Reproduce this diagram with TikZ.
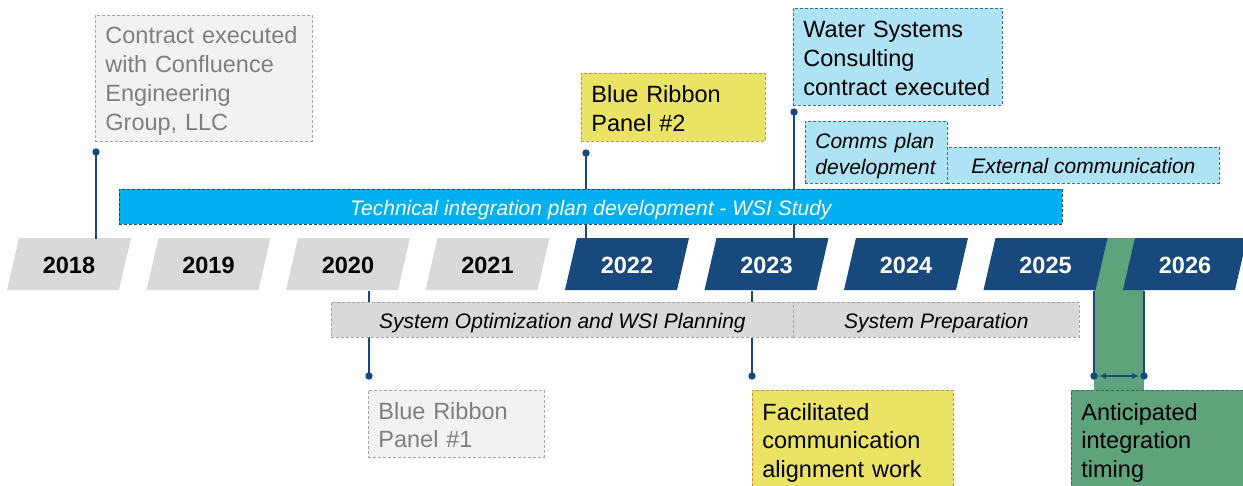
\documentclass[tikz,border=0pt]{standalone}
\usepackage{fontspec}
\setmainfont{Liberation Sans}
\usetikzlibrary{arrows.meta}
\definecolor{dblue}{HTML}{17497D}
\definecolor{yeargray}{HTML}{D9D9D9}
\definecolor{lgray}{HTML}{F2F2F2}
\definecolor{bordgray}{HTML}{A6A6A6}
\definecolor{txtgray}{HTML}{7F7F7F}
\definecolor{cyanbar}{HTML}{00B0F0}
\definecolor{lblue}{HTML}{AEE2F5}
\definecolor{lbluebord}{HTML}{3A6F96}
\definecolor{yel}{HTML}{EAE363}
\definecolor{yelbord}{HTML}{D08A4A}
\definecolor{grn}{HTML}{5EA37B}
\definecolor{grnbord}{HTML}{2F6B6E}
\begin{document}
\begin{tikzpicture}[x=1pt,y=-1pt,
  dsh/.style={draw, dash pattern=on 3pt off 2pt, line width=0.8pt},
  evbox/.style={dsh, anchor=north west, inner xsep=10pt, inner ysep=0pt, align=left,
    font=\fontsize{23.5}{28.7}\selectfont,
    execute at begin node={\rule{0pt}{22pt}},
    execute at end node={\rule[-3pt]{0pt}{3pt}}},
  barbox/.style={dsh, anchor=north west, inner sep=0pt, align=center,
    text height=20pt, text depth=3pt,
    font=\fontsize{21}{26}\selectfont\itshape},
  graybox/.style={fill=lgray, draw=bordgray, text=txtgray},
  yelbox/.style={fill=yel, draw=yelbord, text=black},
  bluebox/.style={fill=lblue, draw=lbluebord, text=black},
  grnbox/.style={fill=grn, draw=grnbord, text=black},
  yeartext/.style={minimum width=112pt, minimum height=52pt, inner sep=0pt,
    font=\fontsize{23.5}{28}\selectfont\bfseries},
  conn/.style={draw=dblue, line width=1.6pt},
  dotst/.style={fill=dblue}
]
\useasboundingbox (0,0) rectangle (1243,485);

% green band behind the year row
\node[fill=grn, minimum width=50pt, minimum height=152pt, anchor=north west, inner sep=0pt] (gband) at (1094,238) {};

% year parallelograms and labels
\foreach \i in {0,...,8}{
  \pgfmathsetmacro\c{69+139.5*\i}
  \pgfmathtruncatemacro\yr{2018+\i}
  \ifnum\i<4 \def\fc{yeargray}\def\tc{black}\else\def\fc{dblue}\def\tc{white}\fi
  \fill[\fc] (\c-62,290) -- (\c+50,290) -- (\c+62,238) -- (\c-50,238) -- cycle;
  \node[yeartext, text=\tc] (y\yr) at (\c,265) {\yr};
}

% connector end points
\coordinate (d2018) at (96,152);
\coordinate (d2022) at (586,153);
\coordinate (d2023t) at (794,112);
\coordinate (d2020) at (369,376);
\coordinate (d2023b) at (752,376);
\coordinate (g1) at (1094,376);
\coordinate (g2) at (1144,376);

% connectors
\draw[conn] (d2018) -- (d2018 |- y2018.north);
\draw[conn] (d2022) -- (d2022 |- y2022.north);
\draw[conn] (d2023t) -- (d2023t |- y2023.north);
\draw[conn] (d2020 |- y2020.south) -- (d2020);
\draw[conn] (d2023b |- y2023.south) -- (d2023b);
\draw[conn] (g1 |- y2025.south) -- (g1);
\draw[conn] (g2 |- y2026.south) -- (g2);
\draw[draw=dblue, line width=1.5pt, {Latex[length=7pt,width=6.5pt]}-{Latex[length=7pt,width=6.5pt]},
  shorten <=5pt, shorten >=5pt] (g1) -- (g2);

% bars
\node[barbox, fill=cyanbar, draw=dblue, text=white, minimum width=943pt, minimum height=35pt] (tech) at (119,189)
  {Technical integration plan development - WSI Study};
\node[barbox, fill=yeargray, draw=bordgray, text=black, minimum width=462pt, minimum height=35pt] (sysopt) at (331,302)
  {System Optimization and WSI Planning};
\node[barbox, fill=yeargray, draw=bordgray, text=black, minimum width=286pt, minimum height=35pt] (sysprep) at (793,302)
  {System Preparation};
\node[barbox, bluebox, text height=19pt, minimum width=272pt, minimum height=36pt] (extcomm) at (947,147)
  {External communication};
\node[evbox, bluebox, font=\fontsize{21}{26}\selectfont\itshape, text width=122pt, minimum height=62pt] (comms) at (805,121)
  {Comms plan\\development};

% event boxes
\node[evbox, graybox, text width=197pt, minimum height=126pt] (contract) at (95,15)
  {Contract executed\\with Confluence\\Engineering\\Group, LLC};
\node[evbox, yelbox, text width=164pt, minimum height=68pt] (br2) at (581,73)
  {Blue Ribbon\\Panel \#2};
\node[evbox, bluebox, text width=189pt, minimum height=97pt] (wsc) at (793,8)
  {Water Systems\\Consulting\\contract executed};
\node[evbox, graybox, text width=156pt, minimum height=67pt] (br1) at (368,390)
  {Blue Ribbon\\Panel \#1};
\node[evbox, yelbox, text width=181pt, minimum height=100pt] (facil) at (752,390)
  {Facilitated\\communication\\alignment work};
\node[evbox, grnbox, text width=159pt, minimum height=100pt] (antic) at (1071,390)
  {Anticipated\\integration\\timing};

% dots
\foreach \p in {d2018,d2022,d2023t,d2020,d2023b,g1,g2}{
  \fill[dotst] (\p) circle (3.7pt);
}
\end{tikzpicture}
\end{document}
